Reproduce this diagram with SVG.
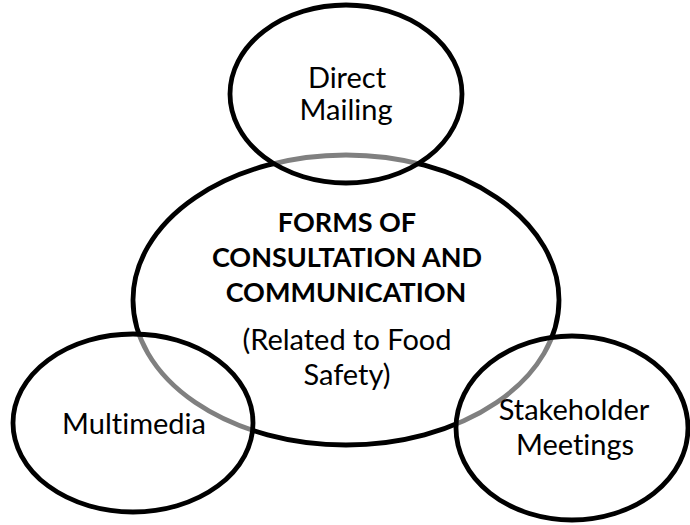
<svg xmlns="http://www.w3.org/2000/svg" width="690" height="525" viewBox="0 0 690 525">
  <style>
    .hub { fill: #ffffff; stroke: #000000; stroke-width: 4.8; }
    .leaf { fill: #ffffff; fill-opacity: 0.5; stroke: #000000; stroke-width: 4.8; }
    text { font-family: Lato, "Open Sans", sans-serif; font-size: 29px; fill: #000000; text-anchor: middle; font-variant-ligatures: none; }
    .title { font-weight: bold; font-size: 27px; }
  </style>
  <rect width="690" height="525" fill="#ffffff"/>
  <g id="connectors"></g>
  <g id="center-node">
    <ellipse class="hub" cx="346" cy="300" rx="213" ry="145"/>
    <text class="title" x="347" y="232">FORMS OF</text>
    <text class="title" x="347" y="267">CONSULTATION AND</text>
    <text class="title" x="346" y="302">COMMUNICATION</text>
    <text x="347" y="350">(Related to Food</text>
    <text x="347" y="385">Safety)</text>
  </g>
  <g id="direct-mailing">
    <ellipse class="leaf" cx="346" cy="94" rx="116" ry="89"/>
    <text x="347" y="88">Direct</text>
    <text x="346" y="120">Mailing</text>
  </g>
  <g id="multimedia">
    <ellipse class="leaf" cx="133" cy="423" rx="120" ry="89"/>
    <text x="134" y="434">Multimedia</text>
  </g>
  <g id="stakeholder-meetings">
    <ellipse class="leaf" cx="572" cy="428" rx="116" ry="92"/>
    <text x="574" y="420">Stakeholder</text>
    <text x="575" y="455">Meetings</text>
  </g>
</svg>
